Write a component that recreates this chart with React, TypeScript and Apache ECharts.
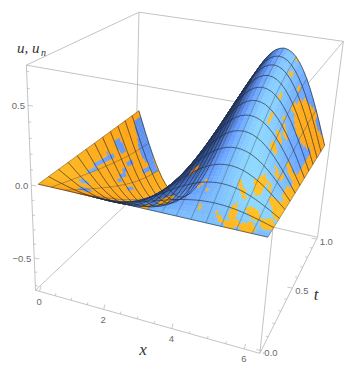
import React, { useEffect, useRef } from "react";
import * as echarts from "echarts";

const W = 354, H = 371;
const TWO_PI = 6.2832;
const Z_MIN = -0.735, Z_MAX = 0.735;

// u(x, t = 1), read along the far edge of the surface at 49 stations of x
const profile = [0,-.083,-.166,-.245,-.32,-.39,-.453,-.508,-.554,-.591,-.618,-.634,-.64,-.634,-.618,-.591,-.554,-.508,-.453,-.39,-.32,-.245,-.166,-.083,0,.083,.166,.245,.32,.39,.453,.508,.555,.592,.619,.634,.64,.634,.619,.592,.555,.508,.453,.39,.32,.245,.166,.083,0];
// growth of the amplitude with t at 37 stations of t
const growth = [0,.036,.072,.108,.144,.18,.216,.25,.285,.32,.354,.388,.42,.455,.49,.52,.555,.585,.615,.645,.675,.705,.73,.76,.785,.81,.835,.855,.875,.895,.915,.93,.95,.96,.975,.99,1];
const xTicks = [0, 2, 4, 6];
const tTicks = [0, 0.5, 1];
const zTicks = [-0.5, 0, 0.5];
const NX = profile.length - 1, NT = growth.length - 1;
const MX = 3, MT = 3, SUB = 2;

// the two surfaces nearly coincide; below this x the orange one is on top
const orangeBelowX = 1.55;
// patches where the other surface pokes through, as [x, t, A, B, C]:
// inside when A dx^2 + 2 B dx dt + C dt^2 < 1
const bluePatches = [
  [.23,.97,44,-27,343],[.43,.94,32,-13,324],[.69,.95,132,-8,812],[.23,.70,108,-139,1172],
  [.29,.51,461,101,120],[.62,.60,719,735,1079],[.49,.73,929,522,1071],[.36,.37,1256,-29,497],
  [.56,.24,219,-359,2044],[.82,.17,107,-85,846],[.88,.60,952,-112,1001],[.69,.87,943,435,562],
];
const orangePatches = [
  [3.44,.08,50,-114,1468],[3.04,.01,145,-368,1978],[3.76,.26,225,-353,3700],[4.22,.16,649,-1892,8014],
  [4.42,.13,888,-2030,14118],[4.42,.06,1297,-751,7848],[5.27,.17,206,986,6037],[5.60,.24,172,-41,373],
  [5.79,.27,411,967,5144],[5.79,.37,332,819,4528],[5.53,.45,170,317,3520],[5.01,.03,221,1290,10693],
  [5.27,.06,182,43,714],[5.73,.10,36,98,2169],[5.73,.02,37,-17,1517],[5.40,.02,74,-117,5510],
  [6.12,.08,56,-22,872],[6.05,.22,75,-2,1172],[5.27,.02,72,-117,5985],[5.27,.17,233,842,6787],
  [6.25,.22,50,-18,199],[6.25,.37,70,-40,169],[6.25,.53,95,-56,141],[6.25,.70,119,-66,119],
  [6.25,.90,181,-86,122],[5.86,.81,16,-6,76],[5.86,.92,121,-115,422],[6.12,.88,84,-67,145],
  [5.53,.74,1144,-878,976],[5.20,.69,1215,-1580,4184],[5.47,.87,1132,-1560,3223],[5.20,.87,636,-1128,3639],
  [5.20,.55,847,180,970],[5.47,.63,1478,-3347,9721],[5.53,.52,206,295,2727],[5.47,.44,533,277,7270],
  [5.60,.58,347,691,3069],[5.47,.24,537,827,8777],[5.92,.38,581,153,5124],[5.99,.47,159,291,1865],
  [6.12,.49,371,-55,2008],[5.14,.99,1020,-1188,3834],
];

// eight box corners in the picture [a, b, c, px, py], which fix the camera
const corners = [
  [0,0,0,35,291],[1,0,0,260,353],[0,1,0,136,195],[1,1,0,317,238],
  [0,0,1,27,66],[1,0,1,285,109],[0,1,1,138,12],[1,1,1,344,42],
];
function solve(A: number[][], b: number[]) {
  const n = b.length; const M = A.map((r, i) => [...r, b[i]]);
  for (let i = 0; i < n; i++) {
    let p = i; for (let k = i + 1; k < n; k++) if (Math.abs(M[k][i]) > Math.abs(M[p][i])) p = k;
    [M[i], M[p]] = [M[p], M[i]];
    for (let k = 0; k < n; k++) if (k !== i) { const f = M[k][i] / M[i][i]; for (let j = i; j <= n; j++) M[k][j] -= f * M[i][j]; }
  }
  return M.map((r, i) => r[n] / r[i]);
}
function calibrate() {
  const rows: number[][] = [], rhs: number[] = [];
  for (const [a, b, c, u, v] of corners) {
    rows.push([1,a,b,c,0,0,0,0,-u*a,-u*b,-u*c]); rhs.push(u);
    rows.push([0,0,0,0,1,a,b,c,-v*a,-v*b,-v*c]); rhs.push(v);
  }
  const N = 11; const A = Array.from({length:N},()=>new Array(N).fill(0)); const B = new Array(N).fill(0);
  rows.forEach((r, k) => { for (let i=0;i<N;i++){ B[i]+=r[i]*rhs[k]; for(let j=0;j<N;j++) A[i][j]+=r[i]*r[j]; } });
  return solve(A, B);
}
const cam = calibrate();
const wOf = (a:number,b:number,c:number) => 1 + cam[8]*a + cam[9]*b + cam[10]*c;
const proj = (a:number,b:number,c:number): number[] => {
  const w = wOf(a,b,c);
  return [(cam[0]+cam[1]*a+cam[2]*b+cam[3]*c)/w, (cam[4]+cam[5]*a+cam[6]*b+cam[7]*c)/w];
};
const PAD = 0.02;
const aOf = (i:number) => PAD + (1-2*PAD)*i/NX;
const bOf = (j:number) => PAD + (1-2*PAD)*j/NT;
const cOf = (u:number) => (u - Z_MIN)/(Z_MAX - Z_MIN);
const uAt = (i:number,j:number) => profile[i]*growth[j];

const R = [.94,.33,.04], U = [-.26,.44,.87], V = [.27,-.83,.5];
const dot = (p:number[],q:number[]) => p[0]*q[0]+p[1]*q[1]+p[2]*q[2];
const unit = (p:number[]) => { const l=Math.hypot(p[0],p[1],p[2]); return p.map(v=>v/l); };
const LG = unit([.36,.46,.81]);
const lerp = (p:number,q:number,s:number)=>p+(q-p)*s;

// light on one table cell: -1 when we see its underside
function shadeRaw(i:number,j:number) {
  const da = (aOf(i+1)-aOf(i)), db = (bOf(j+1)-bOf(j));
  const dcda = (cOf(uAt(i+1,j))+cOf(uAt(i+1,j+1))-cOf(uAt(i,j))-cOf(uAt(i,j+1)))/(2*da);
  const dcdb = (cOf(uAt(i,j+1))+cOf(uAt(i+1,j+1))-cOf(uAt(i,j))-cOf(uAt(i+1,j)))/(2*db);
  const n = unit([-dcda,-dcdb,1]);
  const nv = [dot(n,R),dot(n,U),dot(n,V)];
  if (nv[2] < 0) return -1;
  return Math.pow(Math.max(0,Math.min(1,(dot(nv,LG)-.3)/.7)),1.3);
}
function shadeS(i:number,j:number) {
  const mid = shadeRaw(i,j);
  if (mid < 0) return mid;
  let sum = 0, n = 0;
  for (let k=i-2;k<=i+2;k++) {
    if (k<0||k>=NX) continue;
    const v = shadeRaw(k,j);
    if (v>=0) { sum+=v; n++; }
  }
  return sum/n;
}
function colorOf(s:number,orange:boolean) {
  if (s<0) return "#1c2440";
  const c = orange ? [1,lerp(.52,.76,s),lerp(0,.13,s)]
    : [lerp(.17,.56,s),lerp(.29,.86,s),Math.min(1,lerp(.56,1,Math.min(1,s*1.8)))];
  return `rgb(${c.map(v=>Math.round(v*255)).join(",")})`;
}
const inPatch = (x:number,t:number,q:number[]) => {
  const dx=x-q[0], dt=t-q[1];
  return q[2]*dx*dx+2*q[3]*dx*dt+q[4]*dt*dt<1.4;
};
const sample = (fi:number,fj:number) => { // inside one table cell
  const i=Math.min(Math.floor(fi),NX-1), j=Math.min(Math.floor(fj),NT-1), s=fi-i, r=fj-j;
  const u=(1-s)*(1-r)*uAt(i,j)+s*(1-r)*uAt(i+1,j)+(1-s)*r*uAt(i,j+1)+s*r*uAt(i+1,j+1);
  return [aOf(fi), bOf(fj), cOf(u)];
};
const P3 = (fi:number,fj:number)=>{const q=sample(fi,fj);return proj(q[0],q[1],q[2]);};

const cells: {fi:number,fj:number,w:number,fill:string}[] = [];
for (let si=0;si<NX*SUB;si++) for (let sj=0;sj<NT*SUB;sj++) {
  const fi=si/SUB, fj=sj/SUB, d=1/SUB;
  const q=sample(fi+d/2,fj+d/2);
  const x=(fi+d/2)/NX*TWO_PI, t=(fj+d/2)/NT;
  let o=x<orangeBelowX;
  if (o && bluePatches.some(b=>inPatch(x,t,b))) o=false;
  if (!o && orangePatches.some(b=>inPatch(x,t,b))) o=true;
  cells.push({fi,fj,w:wOf(q[0],q[1],q[2]),fill:colorOf(shadeS(Math.floor(fi),Math.floor(fj)),o)});
}
cells.sort((p,q)=>q.w-p.w);

const boxEdges = [[0,1],[2,3],[4,5],[6,7],[0,2],[1,3],[4,6],[5,7],[0,4],[1,5],[2,6],[3,7]];

type Lab = {text:string,px:number[],align:string,size:number,color:string,italic:boolean};
const GRAY = "#6a6a6a";
const labels: Lab[] = [
  ...xTicks.map(v=>{const a=v/TWO_PI*(1-2*PAD)+PAD;const p=proj(a,0,0);return {text:String(v),px:[p[0]-.5,p[1]+10],align:"center",size:9.5,color:GRAY,italic:false};}),
  ...tTicks.map(v=>{const p=proj(1,v*(1-2*PAD)+PAD,0);return {text:v.toFixed(1),px:[p[0]+3,p[1]+2],align:"left",size:9.5,color:GRAY,italic:false};}),
  ...zTicks.map(v=>{const p=proj(0,0,cOf(v));return {text:(v<0?"\u2212":"")+Math.abs(v).toFixed(1),px:[p[0]-3,p[1]],align:"right",size:9.5,color:GRAY,italic:false};}),
  {text:"x",px:[143,349],align:"center",size:17,color:"#333",italic:true},
  {text:"t",px:[316,294],align:"center",size:17,color:"#333",italic:true},
  {text:"u, u",px:[17,48],align:"left",size:15,color:"#333",italic:true},
  {text:"n",px:[41,52],align:"left",size:10,color:"#333",italic:true},
];

function buildTicks() {
  const segs:number[][][]=[];
  for(let k=0;k<=13;k++){const a=PAD+(1-2*PAD)*(k*.5)/TWO_PI;const p=proj(a,0,0);segs.push([p,[p[0]+(k%4==0?1.2:.6),p[1]-(k%4==0?5:2.5)]]);}
  for(let k=0;k<=10;k++){const b=PAD+(1-2*PAD)*k/10;const p=proj(1,b,0);segs.push([p,[p[0]-(k%5==0?5:2.5),p[1]-(k%5==0?.8:.4)]]);}
  for(let k=-7;k<=7;k++){const p=proj(0,0,cOf(k/10));segs.push([p,[p[0]+(k%5==0?5:2.5),p[1]+(k%5==0?.8:.4)]]);}
  return segs;
}
const tickSegs = buildTicks();

export default function App() {
  const ref = useRef<HTMLDivElement>(null);
  useEffect(() => {
    document.body.style.margin = "0";
    const chart = echarts.init(ref.current!, null, { renderer: "svg" });
    const toPts = (api:any, pts:number[][]) => pts.map(p=>api.coord(p));
    const lineStyle = (stroke:string,lineWidth:number)=>({fill:"none",stroke,lineWidth});
    chart.setOption({
      animation:false,
      grid:{left:0,right:0,top:0,bottom:0},
      xAxis:{type:"value",min:0,max:W,show:false},
      yAxis:{type:"value",min:0,max:H,inverse:true,show:false},
      series:[
        {type:"custom",silent:true,clip:false,data:boxEdges,renderItem:(_:any,api:any)=>{
          const e=boxEdges[_.dataIndex];
          const p=corners[e[0]],q=corners[e[1]];
          return {type:"polyline",shape:{points:toPts(api,[proj(p[0],p[1],p[2]),proj(q[0],q[1],q[2])])},style:lineStyle("#b4b4b4",.8)};
        }},
        {type:"custom",silent:true,clip:false,data:tickSegs.map((_,i)=>[i]),renderItem:(_:any,api:any)=>({
          type:"polyline",shape:{points:toPts(api,tickSegs[_.dataIndex])},style:lineStyle("#b4b4b4",.7)})},
        {type:"custom",silent:true,clip:false,progressive:0,data:cells.map(c=>[c.fi,c.fj]),renderItem:(_:any,api:any)=>{
          const {fi,fj,fill:f}=cells[_.dataIndex]; const d=1/SUB;
          return {type:"polygon",shape:{points:toPts(api,[P3(fi,fj),P3(fi+d,fj),P3(fi+d,fj+d),P3(fi,fj+d)])},style:{fill:f,stroke:f,lineWidth:.4}};
        }},
        {type:"custom",silent:true,clip:false,data:Array.from({length:NX/MX+1},(_,k)=>[k]),renderItem:(_:any,api:any)=>{
          const i=_.dataIndex*MX; const pts=growth.map((__,j)=>proj(aOf(i),bOf(j),cOf(uAt(i,j))));
          return {type:"polyline",shape:{points:toPts(api,pts)},style:lineStyle("rgba(50,65,75,.55)",.7)};
        }},
        {type:"custom",silent:true,clip:false,data:Array.from({length:NT/MT+1},(_,k)=>[k]),renderItem:(_:any,api:any)=>{
          const j=_.dataIndex*MT; const pts=profile.map((__,i)=>proj(aOf(i),bOf(j),cOf(uAt(i,j))));
          return {type:"polyline",shape:{points:toPts(api,pts)},style:lineStyle("rgba(35,40,50,.7)",.9)};
        }},
        {type:"custom",silent:false,clip:false,data:labels.map((_,i)=>[i]),renderItem:(_:any,api:any)=>{
          const l=labels[_.dataIndex]; const p=api.coord(l.px);
          return {type:"text",x:p[0],y:p[1],style:{text:l.text,fill:l.color,align:l.align,verticalAlign:"middle",
            fontSize:l.size,fontStyle:l.italic?"italic":"normal",fontFamily:l.italic?"'Liberation Serif'":"'Liberation Sans'"}};
        }},
      ],
    });
    return () => chart.dispose();
  }, []);
  return <div ref={ref} style={{position:"absolute",left:0,top:0,width:W,height:H}} />;
}
